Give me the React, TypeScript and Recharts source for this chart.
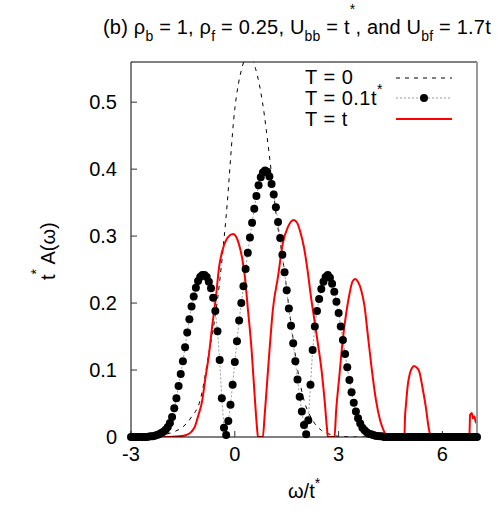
import React from 'react';
import { LineChart, Line, XAxis, YAxis } from 'recharts';

// ---------- data ----------
// T = 0 (dashed)
const t0Omega = [-3, -2.5, -2, -1.75, -1.5, -1.25, -1, -0.75, -0.5, -0.25, 0, 0.2, 0.4, 0.6, 0.8, 1, 1.2, 1.4, 1.6, 1.8, 2, 2.25, 2.5, 2.75, 3, 3.5, 7];
const t0Values = [0, 0.001, 0.004, 0.008, 0.015, 0.03, 0.055, 0.125, 0.205, 0.33, 0.49, 0.55, 0.57, 0.55, 0.5, 0.42, 0.33, 0.26, 0.18, 0.105, 0.055, 0.025, 0.01, 0.004, 0.001, 0, 0];

// T = 0.1 t* (dots)
const dotOmega = [
  -3, -2.9375, -2.875, -2.8125, -2.75, -2.6875, -2.625, -2.5625, -2.5, -2.4375,
  -2.375, -2.3125, -2.25, -2.1875, -2.125, -2.0625, -2, -1.9375, -1.875, -1.8125,
  -1.75, -1.6875, -1.625, -1.5625, -1.5, -1.4375, -1.375, -1.3125, -1.25, -1.1875,
  -1.125, -1.0625, -1, -0.9375, -0.875, -0.8125, -0.75, -0.6875, -0.625, -0.5625,
  -0.5, -0.4375, -0.375, -0.3125, -0.25, -0.1875, -0.125, -0.0625, 0, 0.0625,
  0.125, 0.1875, 0.25, 0.3125, 0.375, 0.4375, 0.5, 0.5625, 0.625, 0.6875,
  0.75, 0.8125, 0.875, 0.9375, 1, 1.0625, 1.125, 1.1875, 1.25, 1.3125,
  1.375, 1.4375, 1.5, 1.5625, 1.625, 1.6875, 1.75, 1.8125, 1.875, 1.9375,
  2, 2.0625, 2.125, 2.1875, 2.25, 2.3125, 2.375, 2.4375, 2.5, 2.5625,
  2.625, 2.6875, 2.75, 2.8125, 2.875, 2.9375, 3, 3.0625, 3.125, 3.1875,
  3.25, 3.3125, 3.375, 3.4375, 3.5, 3.5625, 3.625, 3.6875, 3.75, 3.8125,
  3.875, 3.9375, 4, 4.0625, 4.125, 4.1875, 4.25, 4.3125, 4.375, 4.4375,
  4.5, 4.5625, 4.625, 4.6875, 4.75, 4.8125, 4.875, 4.9375, 5, 5.0625,
  5.125, 5.1875, 5.25, 5.3125, 5.375, 5.4375, 5.5, 5.5625, 5.625, 5.6875,
  5.75, 5.8125, 5.875, 5.9375, 6, 6.0625, 6.125, 6.1875, 6.25, 6.3125,
  6.375, 6.4375, 6.5, 6.5625, 6.625, 6.6875, 6.75, 6.8125, 6.875, 6.9375, 7,
];
const dotValues = [
  0, 0, 0, 0, 0, 0, 0, 0, 0.0005, 0.001,
  0.001, 0.002, 0.003, 0.004, 0.006, 0.008, 0.011, 0.015, 0.021, 0.03,
  0.043, 0.058, 0.076, 0.094, 0.113, 0.134, 0.156, 0.176, 0.195, 0.21,
  0.223, 0.233, 0.239, 0.242, 0.242, 0.239, 0.232, 0.222, 0.208, 0.188,
  0.158, 0.115, 0.058, 0.014, 0.003, 0.024, 0.048, 0.078, 0.112, 0.143,
  0.174, 0.2, 0.225, 0.251, 0.275, 0.298, 0.32, 0.341, 0.36, 0.376,
  0.388, 0.395, 0.398, 0.396, 0.389, 0.378, 0.362, 0.343, 0.321, 0.297,
  0.272, 0.246, 0.219, 0.192, 0.166, 0.14, 0.113, 0.086, 0.06, 0.038,
  0.018, 0.004, 0.025, 0.078, 0.13, 0.165, 0.188, 0.206, 0.221, 0.232,
  0.239, 0.242, 0.238, 0.229, 0.217, 0.202, 0.185, 0.165, 0.145, 0.124,
  0.104, 0.085, 0.067, 0.051, 0.038, 0.028, 0.02, 0.014, 0.01, 0.007,
  0.005, 0.004, 0.003, 0.002, 0.0015, 0.001, 0.001, 0, 0, 0,
  0, 0, 0, 0, 0, 0, 0, 0, 0, 0,
  0, 0, 0, 0, 0, 0, 0, 0, 0, 0,
  0, 0, 0, 0, 0, 0, 0, 0, 0, 0,
  0, 0, 0, 0, 0, 0, 0, 0, 0, 0, 0,
];

// T = t (red)
const redOmega = [
  -3, -2, -1.6, -1.4, -1.25, -1.15, -1.05, -0.95, -0.85, -0.75, -0.65, -0.55, -0.45, -0.35, -0.25, -0.15, -0.05,
  0.05, 0.14, 0.22, 0.29, 0.38, 0.48, 0.57, 0.64, 0.67, 0.81, 0.86, 0.91, 1.01, 1.1, 1.25, 1.39, 1.53, 1.7,
  1.8, 1.9, 2, 2.1, 2.2, 2.3, 2.4, 2.5, 2.6, 2.66, 2.69, 2.88, 2.93, 3.02, 3.12, 3.22, 3.32, 3.4, 3.48, 3.56,
  3.65, 3.75, 3.85, 3.95, 4.08, 4.2, 4.3, 4.42, 4.9, 4.92, 4.95, 5, 5.06, 5.12, 5.18, 5.25, 5.33, 5.42, 5.52,
  5.6, 5.67, 6.78, 6.8, 6.85, 6.88, 6.92, 6.96, 7,
];
const redValues = [
  0, 0, 0.001, 0.003, 0.008, 0.016, 0.033, 0.052, 0.088, 0.122, 0.167, 0.207, 0.255, 0.28, 0.294, 0.301, 0.303,
  0.298, 0.284, 0.265, 0.24, 0.19, 0.134, 0.065, 0.015, 0, 0, 0.03, 0.065, 0.134, 0.19, 0.24, 0.29, 0.313, 0.324,
  0.32, 0.305, 0.283, 0.25, 0.21, 0.175, 0.14, 0.103, 0.052, 0.015, 0, 0, 0.04, 0.09, 0.145, 0.185, 0.215, 0.232, 0.236, 0.232,
  0.22, 0.195, 0.15, 0.105, 0.055, 0.025, 0.01, 0.002, 0, 0.03, 0.05, 0.078, 0.095, 0.103, 0.106, 0.104, 0.098, 0.075, 0.045,
  0.015, 0, 0, 0.033, 0.036, 0.028, 0.031, 0.023, 0.02,
];

const xTicks = [-3, 0, 3, 6];
const yTicks = [0, 0.1, 0.2, 0.3, 0.4, 0.5];
const legendLabels = ['T = 0', 'T = 0.1t', 'T = t'];

const t0Data = t0Omega.map((x, i) => ({ x, y: t0Values[i] }));
const dotData = dotOmega.map((x, i) => ({ x, y: dotValues[i] }));
const redData = redOmega.map((x, i) => ({ x, y: redValues[i] }));

const FONT = '"Liberation Sans", Arial, Helvetica, sans-serif';
const tickStyle = { fontFamily: FONT, fontSize: 20, fill: '#000' };

export default function App() {
  return (
    <div style={{ position: 'absolute', left: 0, top: 0, width: 500, height: 525, background: '#fff' }}>
      <LineChart width={500} height={525} margin={{ top: 60, right: 21, bottom: 58, left: 71 }}>
        <XAxis
          xAxisId="b"
          dataKey="x"
          type="number"
          domain={[-3, 7]}
          ticks={xTicks}
          allowDataOverflow
          height={30}
          tickSize={-6}
          tickMargin={16}
          stroke="#000"
          tickLine={{ stroke: '#333' }}
          tick={tickStyle}
        />
        <XAxis
          xAxisId="t"
          orientation="top"
          dataKey="x"
          type="number"
          domain={[-3, 7]}
          ticks={xTicks}
          allowDataOverflow
          height={2}
          tickSize={-6}
          tick={false}
          stroke="#000"
          tickLine={{ stroke: '#333' }}
        />
        <YAxis
          yAxisId="l"
          type="number"
          domain={[0, 0.56]}
          ticks={yTicks}
          allowDataOverflow
          width={60}
          tickSize={-6}
          tickMargin={20}
          stroke="#000"
          tickLine={{ stroke: '#333' }}
          tick={tickStyle}
        />
        <YAxis
          yAxisId="r"
          orientation="right"
          type="number"
          domain={[0, 0.56]}
          ticks={yTicks}
          allowDataOverflow
          width={2}
          tickSize={-5}
          tick={false}
          stroke="#999"
          strokeWidth={2}
          tickLine={{ stroke: '#333', strokeWidth: 1 }}
        />
        <Line
          xAxisId="b"
          yAxisId="l"
          data={t0Data}
          dataKey="y"
          type="monotone"
          stroke="#000"
          strokeWidth={1}
          strokeDasharray="4 5"
          dot={false}
          isAnimationActive={false}
        />
        <Line
          xAxisId="b"
          yAxisId="l"
          data={dotData}
          dataKey="y"
          type="linear"
          stroke="#999"
          strokeWidth={1}
          strokeDasharray="2 2"
          dot={{ r: 4, fill: '#000', stroke: 'none', clipDot: false }}
          isAnimationActive={false}
        />
        <Line
          xAxisId="b"
          yAxisId="l"
          data={redData}
          dataKey="y"
          type="monotone"
          stroke="#ff0000"
          strokeWidth={2}
          dot={false}
          isAnimationActive={false}
        />
      </LineChart>
      <svg
        width={500}
        height={525}
        style={{ position: 'absolute', left: 0, top: 0, pointerEvents: 'none' }}
        fontFamily={FONT}
      >
        <text x={103} y={34} fontSize={20} letterSpacing={0.2} fill="#000">
          (b) ρ<tspan dy={7} fontSize={14}>b</tspan>
          <tspan dy={-7}> = 1, ρ</tspan>
          <tspan dy={7} fontSize={14}>f</tspan>
          <tspan dy={-7}> = 0.25, U</tspan>
          <tspan dy={7} fontSize={14}>bb</tspan>
          <tspan dy={-7}> = t</tspan>
          <tspan dy={-20} fontSize={14}>*</tspan>
          <tspan dy={20}>, and U</tspan>
          <tspan dy={7} fontSize={14}>bf</tspan>
          <tspan dy={-7}> = 1.7t</tspan>
        </text>

        <text x={305} y={84} fontSize={20} letterSpacing={0.5}>{legendLabels[0]}</text>
        <text x={305} y={105} fontSize={20} letterSpacing={0.5}>
          {legendLabels[1]}
          <tspan dy={-11} fontSize={14}>*</tspan>
        </text>
        <text x={305} y={126} fontSize={20} letterSpacing={0.5}>{legendLabels[2]}</text>
        <line x1={396} x2={452} y1={78} y2={78} stroke="#000" strokeWidth={1} strokeDasharray="4 5" />
        <line x1={396} x2={452} y1={98} y2={98} stroke="#999" strokeWidth={1} strokeDasharray="2 2" />
        <circle cx={424} cy={98} r={4} fill="#000" />
        <line x1={396} x2={452} y1={119} y2={119} stroke="#ff0000" strokeWidth={2} />

        <text x={288} y={498} fontSize={20}>
          ω/t<tspan dy={-10} fontSize={14}>*</tspan>
        </text>
        <text transform="translate(55,280) rotate(-90)" fontSize={20}>
          t<tspan dy={-14} fontSize={14}>*</tspan>
          <tspan dy={14}> A(ω)</tspan>
        </text>
      </svg>
    </div>
  );
}
